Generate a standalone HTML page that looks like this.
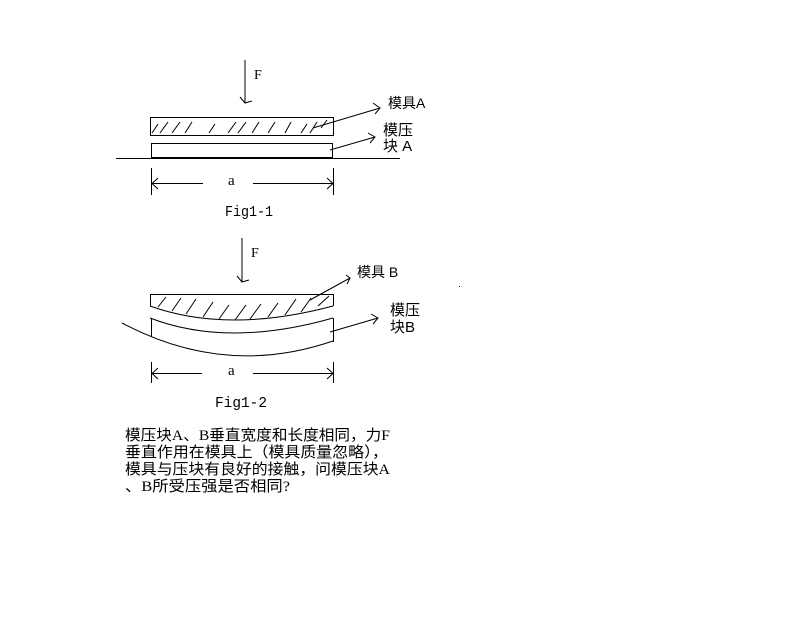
<!DOCTYPE html>
<html><head><meta charset="utf-8"><style>
html,body{margin:0;padding:0;background:#fff;width:785px;height:629px;overflow:hidden}
svg{display:block}
text{font-family:"Liberation Serif","Noto Sans CJK SC",serif;fill:#000}
.c{font-family:"Liberation Sans","Noto Sans CJK SC",sans-serif}
.m{font-family:"Liberation Mono",monospace}
</style></head><body>
<svg width="785" height="629" viewBox="0 0 785 629" xmlns="http://www.w3.org/2000/svg">
<g stroke="#000" stroke-width="1" fill="none">
<!-- Fig 1-1 -->
<line x1="245" y1="60" x2="245" y2="103"/>
<polyline points="240,97 245,103 252,101"/>
<rect x="150.5" y="117.5" width="183" height="18"/>
<g>
<line x1="152" y1="133" x2="158" y2="124"/><line x1="160" y1="133" x2="168" y2="122"/><line x1="172" y1="133" x2="180" y2="122"/><line x1="185" y1="133" x2="192" y2="122"/><line x1="209" y1="133" x2="215" y2="124"/><line x1="228" y1="133" x2="236" y2="122"/><line x1="238" y1="133" x2="246" y2="122"/><line x1="252" y1="133" x2="259" y2="122"/><line x1="268" y1="133" x2="275" y2="122"/><line x1="285" y1="133" x2="291" y2="122"/><line x1="301" y1="133" x2="307" y2="124"/><line x1="310" y1="133" x2="317" y2="122"/><line x1="321" y1="128" x2="327" y2="120"/>
</g>
<rect x="151.5" y="143.5" width="181" height="14"/>
<line x1="116" y1="158.5" x2="400" y2="158.5"/>
<line x1="151.5" y1="168" x2="151.5" y2="195"/>
<line x1="333.5" y1="168" x2="333.5" y2="195"/>
<line x1="152" y1="183.5" x2="203" y2="183.5"/>
<polyline points="158,178 152,183.5 158,189"/>
<line x1="253" y1="183.5" x2="333" y2="183.5"/>
<polyline points="327,178 333,183.5 327,189"/>
<line x1="313" y1="128" x2="380" y2="108"/>
<polyline points="373,103 380,108 375,114"/>
<line x1="330" y1="150" x2="375" y2="137"/>
<polyline points="368,133 375,137 370,143"/>
<!-- Fig 1-2 -->
<line x1="242" y1="238" x2="242" y2="282"/>
<polyline points="237,276 242,282 249,280"/>
<line x1="150" y1="294.5" x2="333" y2="294.5"/>
<line x1="150.5" y1="294" x2="150.5" y2="306"/>
<line x1="333.5" y1="294" x2="333.5" y2="306"/>
<path d="M150,306 Q228,334 333,306"/>
<g>
<line x1="158" y1="307" x2="166" y2="297"/><line x1="172" y1="311" x2="181" y2="298"/><line x1="186" y1="314" x2="196" y2="299"/><line x1="203" y1="317" x2="213" y2="302"/><line x1="219" y1="319" x2="229" y2="305"/><line x1="235" y1="320" x2="246" y2="305"/><line x1="250" y1="319" x2="261" y2="304"/><line x1="268" y1="317" x2="278" y2="303"/><line x1="285" y1="315" x2="296" y2="299"/><line x1="301" y1="312" x2="311" y2="298"/><line x1="318" y1="306" x2="329" y2="296"/>
</g>
<path d="M150,318 Q228,348 333,318"/>
<line x1="151.5" y1="318" x2="151.5" y2="337"/>
<line x1="333.5" y1="318" x2="333.5" y2="342"/>
<path d="M122,323 Q225,378 333,341"/>
<line x1="151.5" y1="362" x2="151.5" y2="383"/>
<line x1="333.5" y1="362" x2="333.5" y2="383"/>
<line x1="152" y1="373.5" x2="202" y2="373.5"/>
<polyline points="158,368 152,373.5 158,379"/>
<line x1="253" y1="373.5" x2="333" y2="373.5"/>
<polyline points="327,368 333,373.5 327,379"/>
<line x1="310" y1="300" x2="350" y2="278"/>
<polyline points="346,275 350,278 347,284"/>
<line x1="330" y1="332" x2="378" y2="318"/>
<polyline points="371,314 378,318 373,324"/>
</g>
<rect x="459" y="286" width="1" height="1" fill="#000"/>
<text x="254" y="79" font-size="14">F</text>
<text class="c" x="388" y="108" font-size="14">模具A</text>
<text class="c" x="383" y="135" font-size="15">模压</text>
<text class="c" x="383" y="151" font-size="15">块 A</text>
<text x="228" y="185" font-size="15">a</text>
<text class="m" x="225" y="216" font-size="15" textLength="48" lengthAdjust="spacingAndGlyphs">Fig1-1</text>
<text x="251" y="257" font-size="14">F</text>
<text class="c" x="357" y="277" font-size="14">模具 B</text>
<text class="c" x="390" y="315" font-size="15">模压</text>
<text class="c" x="390" y="332" font-size="15">块B</text>
<text x="228" y="375" font-size="15">a</text>
<text class="m" x="215" y="407" font-size="15" textLength="52" lengthAdjust="spacingAndGlyphs">Fig1-2</text>
<g class="c" font-size="15">
<text x="125" y="440" textLength="265" lengthAdjust="spacingAndGlyphs">模压块A、B垂直宽度和长度相同，力F</text>
<text x="125" y="457" textLength="263" lengthAdjust="spacingAndGlyphs">垂直作用在模具上（模具质量忽略），</text>
<text x="125" y="474" textLength="265" lengthAdjust="spacingAndGlyphs">模具与压块有良好的接触，问模压块A</text>
<text x="125" y="491" textLength="165" lengthAdjust="spacingAndGlyphs">、B所受压强是否相同?</text>
</g>
</svg>
</body></html>
